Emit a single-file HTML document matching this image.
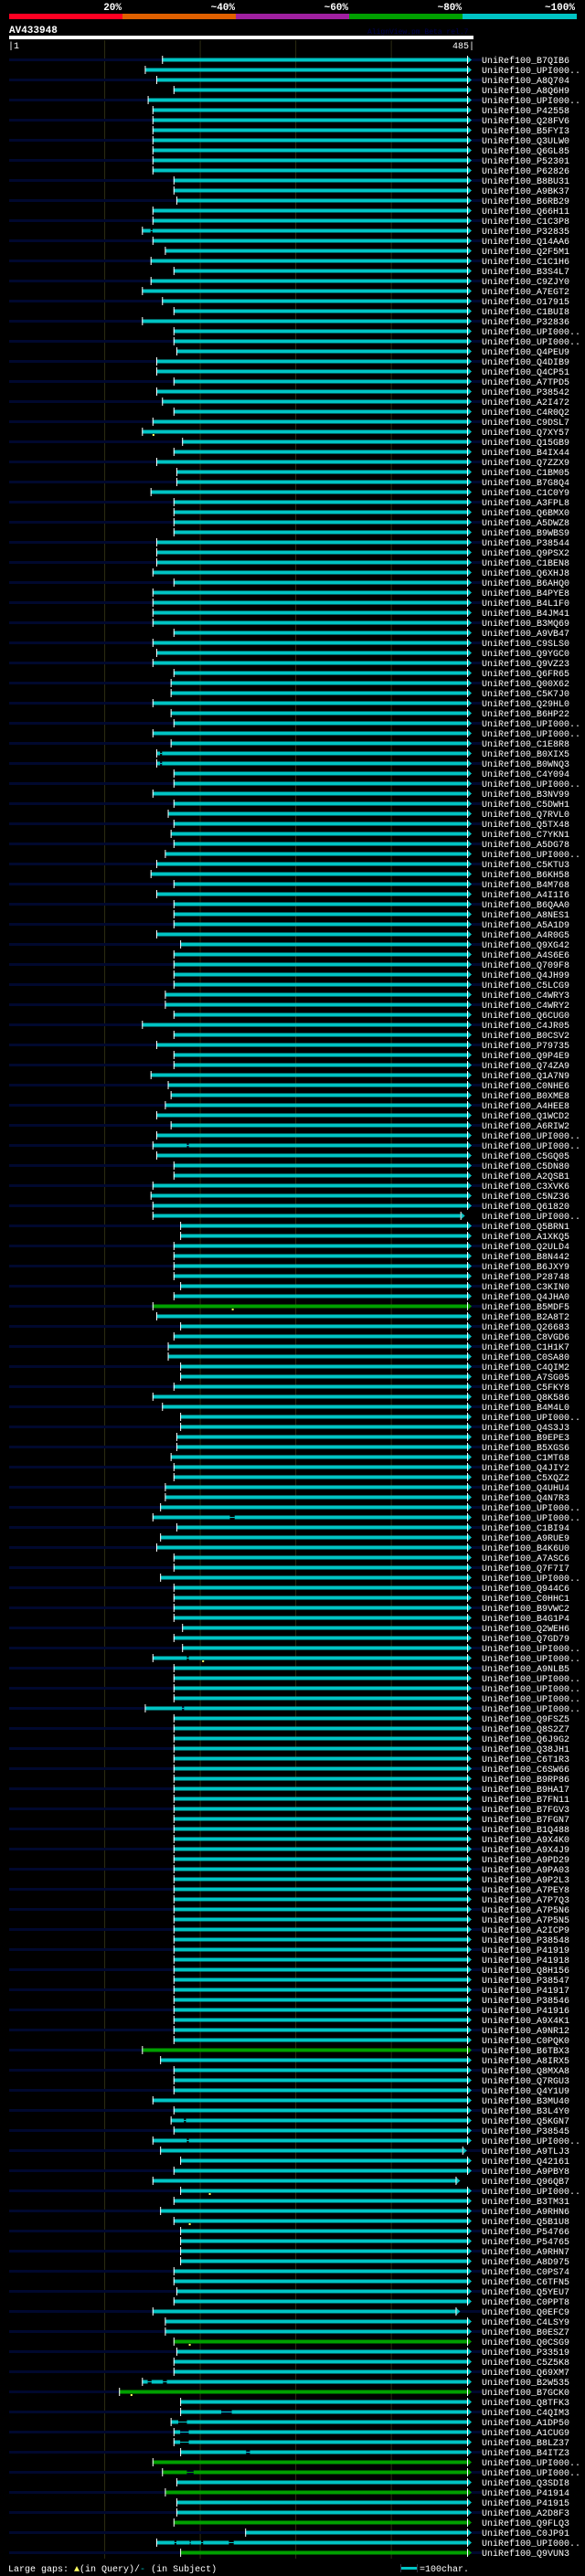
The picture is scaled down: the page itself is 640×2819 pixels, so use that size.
<!DOCTYPE html>
<html><head><meta charset="utf-8">
<style>
html,body{margin:0;padding:0;background:#000;}
body{width:640px;height:2819px;overflow:hidden;}
svg{display:block;}
</style></head>
<body>
<svg id="chart" width="640" height="2819" xmlns="http://www.w3.org/2000/svg" font-family="Liberation Mono, monospace">
<rect x="0" y="0" width="640" height="2819" fill="#000"/>
<g>
<rect x="10" y="15" width="124" height="6" fill="#ff0022"/>
<rect x="134" y="15" width="124" height="6" fill="#e06000"/>
<rect x="258" y="15" width="124" height="6" fill="#a020a0"/>
<rect x="382" y="15" width="124" height="6" fill="#00a000"/>
<rect x="506" y="15" width="125" height="6" fill="#00c4c4"/>
<g font-size="11" font-weight="bold" fill="#fff" text-anchor="end">
<text x="133" y="11">20%</text>
<text x="257" y="11">~40%</text>
<text x="381" y="11">~60%</text>
<text x="505" y="11">~80%</text>
<text x="629" y="11">~100%</text>
</g></g>
<text x="10" y="36" font-size="11" font-weight="bold" fill="#fff">AV433948</text>
<text x="402" y="37" font-size="8" fill="#000050">AlignView.pm Beta rel.7</text>
<rect x="10" y="39" width="508" height="4" fill="#fff"/>
<text x="9" y="53" font-size="10" fill="#fff">|1</text>
<text x="519" y="53" font-size="10" fill="#fff" text-anchor="end">485|</text>
<g id="grid"></g>
<g id="rows"></g>
<g>
<text x="9" y="2814" font-size="10" fill="#fff">Large gaps: <tspan fill="#ffff60">▲</tspan>(in Query)/<tspan fill="#00c4c4">-</tspan> (in Subject)</text>
<rect x="439" y="2809" width="17" height="3" fill="#00c4c4"/>
<rect x="438" y="2806" width="1" height="9" fill="#334"/>
<rect x="456" y="2806" width="1" height="9" fill="#334"/>
<text x="459" y="2814" font-size="10" fill="#fff">=100char.</text>
</g>
</svg>
<script>
const queryLength = 485;
const gridTicks = [100, 200, 300, 400];
const labels = ["B7QIB6","UPI000..","A8Q704","A8Q6H9","UPI000..","P42558","Q28FV6","B5FYI3","Q3ULW0","Q6GL85","P52301","P62826","B8BU31","A9BK37","B6RB29","Q66H11","C1C3P8","P32835","Q14AA6","Q2F5M1","C1C1H6","B3S4L7","C9ZJY0","A7EGT2","O17915","C1BUI8","P32836",
"UPI000..","UPI000..","Q4PEU9","Q4DIB9","Q4CP51","A7TPD5","P38542","A2I472","C4R0Q2","C9DSL7","Q7XY57","Q15GB9","B4IX44","Q7ZZX9","C1BM05","B7G8Q4","C1C0Y9","A3FPL8","Q6BMX0","A5DWZ8","B9WBS9","P38544","Q9PSX2","C1BEN8","Q6XHJ8","B6AHQ0",
"B4PYE8","B4L1F0","B4JM41","B3MQ69","A9VB47","C9SLS0","Q9YGC0","Q9VZ23","Q6FR65","Q00X62","C5K7J0","Q29HL0","B6HP22","UPI000..","UPI000..","C1E8R8","B0XIX5","B0WNQ3","C4Y094","UPI000..","B3NV99","C5DWH1","Q7RVL0","Q5TX48","C7YKN1","A5DG78","UPI000..",
"C5KTU3","B6KH58","B4M768","A4I1I6","B6QAA0","A8NES1","A5A1D9","A4R0G5","Q9XG42","A4S6E6","Q709F8","Q4JH99","C5LCG9","C4WRY3","C4WRY2","Q6CUG0","C4JR05","B0CSV2","P79735","Q9P4E9","Q74ZA9","Q1A7N9","C0NHE6","B0XME8","A4HEE8","Q1WCD2",
"A6RIW2","UPI000..","UPI000..","C5GQ05","C5DN80","A2QSB1","C3XVK6","C5NZ36","Q61820","UPI000..","Q5BRN1","A1XKQ5","Q2ULD4","B8N442","B6JXY9","P28748","C3KIN0","Q4JHA0","B5MDF5","B2A8T2","Q26683","C8VGD6","C1H1K7","C0SA80","C4QIM2","A7SG05","C5FKY8",
"Q8K586","B4M4L0","UPI000..","Q4S3J3","B9EPE3","B5XGS6","C1MT68","Q4JIY2","C5XQZ2","Q4UHU4","Q4N7R3","UPI000..","UPI000..","C1BI94","A9RUE9","B4K6U0","A7ASC6","Q7F7I7","UPI000..","Q944C6","C0HHC1","B9VWC2","B4G1P4","Q2WEH6","Q7GD79","UPI000..","UPI000..",
"A9NLB5","UPI000..","UPI000..","UPI000..","UPI000..","Q9FSZ5","Q8S2Z7","Q6J9G2","Q38JH1","C6T1R3","C6SW66","B9RP86","B9HA17","B7FN11","B7FGV3","B7FGN7","B1Q488","A9X4K0","A9X4J9","A9PD29","A9PA03","A9P2L3","A7PEY8","A7P7Q3","A7P5N6","A7P5N5",
"A2ICP9","P38548","P41919","P41918","Q8H156","P38547","P41917","P38546","P41916","A9X4K1","A9NR12","C0PQK0","B6TBX3","A8IRX5","Q8MXA8","Q7RGU3","Q4Y1U9","B3MU40","B3L4Y0","Q5KGN7","P38545","UPI000..","A9TLJ3","Q42161","A9PBY8","Q96QB7","UPI000..",
"B3TM31","A9RHN6","Q5B1U8","P54766","P54765","A9RHN7","A8D975","C0PS74","C6TFN5","Q5YEU7","C0PPT8","Q0EFC9","C4LSY9","B0ESZ7","Q0CSG9","P33519","C5Z5K8","Q69XM7","B2W535","B7GCK0","Q8TFK3","C4QIM3","A1DP50","A1CUG9","B8LZ37","B4ITZ3","UPI000..",
"UPI000..","Q3SDI8","P41914","P41915","A2D8F3","Q9FLQ3","C0JP91","UPI000..","Q9VUN3"];
const starts = [160,142,154,172,145,150,150,150,150,150,150,150,172,172,175,150,150,139,150,163,148,172,148,139,160,172,139,
172,172,175,154,154,172,154,160,172,150,139,181,172,154,175,175,148,172,172,172,172,154,154,154,150,172,
150,150,150,150,172,150,154,150,172,169,169,150,169,172,150,169,154,154,172,172,150,172,166,172,169,172,163,
154,148,172,154,172,172,172,154,179,172,172,172,172,163,163,172,139,172,154,172,172,148,166,169,163,154,
169,154,150,154,172,172,150,148,150,150,179,179,172,172,172,172,179,172,150,154,179,172,166,166,179,179,172,
150,160,179,179,175,175,169,172,172,163,163,158,150,175,158,154,172,172,158,172,172,172,172,181,172,181,150,
172,172,172,172,142,172,172,172,172,172,172,172,172,172,172,172,172,172,172,172,172,172,172,172,172,172,
172,172,172,172,172,172,172,172,172,172,172,172,139,158,172,172,172,150,172,169,172,150,158,179,172,150,179,
172,158,172,179,179,179,179,172,172,175,172,150,163,163,172,175,172,172,139,115,179,179,169,172,172,179,150,
160,175,163,175,175,172,247,154,179];
const identityClass = ["c","c","c","c","c","c","c","c","c","c","c","c","c","c","c","c","c","c","c","c","c","c","c","c","c","c","c",
"c","c","c","c","c","c","c","c","c","c","c","c","c","c","c","c","c","c","c","c","c","c","c","c","c","c",
"c","c","c","c","c","c","c","c","c","c","c","c","c","c","c","c","c","c","c","c","c","c","c","c","c","c","c",
"c","c","c","c","c","c","c","c","c","c","c","c","c","c","c","c","c","c","c","c","c","c","c","c","c","c",
"c","c","c","c","c","c","c","c","c","c","c","c","c","c","c","c","c","c","g","c","c","c","c","c","c","c","c",
"c","c","c","c","c","c","c","c","c","c","c","c","c","c","c","c","c","c","c","c","c","c","c","c","c","c","c",
"c","c","c","c","c","c","c","c","c","c","c","c","c","c","c","c","c","c","c","c","c","c","c","c","c","c",
"c","c","c","c","c","c","c","c","c","c","c","c","g","c","c","c","c","c","c","c","c","c","c","c","c","c","c",
"c","c","c","c","c","c","c","c","c","c","c","c","c","c","g","c","c","c","c","g","c","c","c","c","c","c","g",
"g","c","g","c","c","g","c","c","g"];
const endRows = [115, 208, 211, 224];
const endValues = [478, 480, 473, 473];
const gapRows = [17,69,70,108,145,159,164,205,207,231,231,234,235,236,237,238,240,247,247,247,247];
const gapFrom = [148,158,158,186,231,186,181,183,186,145,161,222,177,179,179,248,186,173,189,201,230];
const gapTo   = [150,160,160,188,236,188,183,185,188,149,165,233,186,188,188,252,193,175,190,203,235];
const insertRows = [37,124,159,212,215,227,232];
const insertPos = [151,234,203,210,189,189,128];

const NS = "http://www.w3.org/2000/svg";
const X0 = 10, X1 = 517;
function xScale(c){ return X0 + c * (X1 - X0) / queryLength; }
const ROW0 = 65, PITCH = 11;
function yScale(i){ return ROW0 + i * PITCH; }
const COLORS = {c:"#00c4c4", g:"#00a000"};
function mk(tag, attrs, parent){
  const e = document.createElementNS(NS, tag);
  for (const k in attrs) e.setAttribute(k, attrs[k]);
  parent.appendChild(e);
  return e;
}
const grid = document.getElementById("grid");
gridTicks.forEach(t => {
  const l = mk("line", {x1:xScale(t), x2:xScale(t), y1:44, y2:2800, stroke:"#2c2c12", "stroke-width":1}, grid);
  
  
});
const rowsG = document.getElementById("rows");
labels.forEach((lab, i) => {
  const y = yScale(i);
  const g = mk("g", {}, rowsG);
  
  
  if (i % 2 === 0) {
    mk("rect", {x:10, y:y-1, width:517, height:3, fill:"#00082e"}, g);
  }
  const ei = endRows.indexOf(i);
  const endC = ei >= 0 ? endValues[ei] : queryLength;
  const sx = xScale(starts[i]), ex = xScale(endC) - 6;
  const col = COLORS[identityClass[i]];
  const bar = mk("rect", {x:sx, y:y-1.5, width:Math.max(0, ex - sx), height:4, fill:col}, g);
  
  
  gapRows.forEach((r, k) => {
    if (r !== i) return;
    const gx1 = xScale(gapFrom[k]), gx2 = xScale(gapTo[k]);
    mk("rect", {x:gx1, y:y-1.5, width:gx2-gx1, height:4, fill:(i%2===0?"#00082e":"#000")}, g);
    mk("rect", {x:gx1, y:y, width:gx2-gx1, height:1, fill:col}, g);
  });
  insertRows.forEach((r, k) => {
    if (r !== i) return;
    mk("rect", {x:xScale(insertPos[k]) - 1, y:y+3, width:2, height:2, fill:"#ffff60"}, g);
  });
  mk("rect", {x:sx, y:y-4, width:1, height:9, fill:"#fff"}, g);
  mk("rect", {x:ex, y:y-4, width:1, height:9, fill:"#fff"}, g);
  mk("polygon", {points:(ex+1)+","+(y-3)+" "+(ex+5)+","+(y+0.5)+" "+(ex+1)+","+(y+4), fill:col}, g);
  const t = mk("text", {x:527, y:y+4, "font-size":10, fill:"#fff"}, g);
  t.textContent = "UniRef100_" + lab;
  
  
});
</script>
</body></html>
